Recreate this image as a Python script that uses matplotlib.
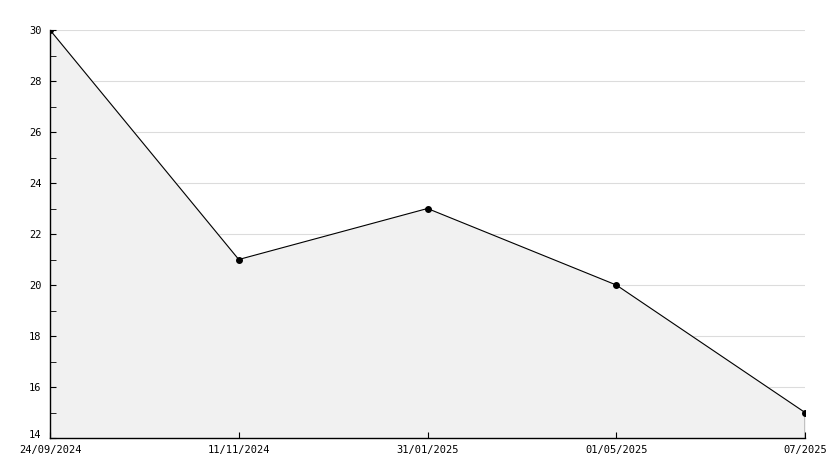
import matplotlib.pyplot as plt
import matplotlib.transforms as mtransforms

# Data
dates = ["24/09/2024", "11/11/2024", "31/01/2025", "01/05/2025", "07/2025"]
values = [30, 21, 23, 20, 15]

plt.rcParams['font.family'] = 'DejaVu Sans Mono'

fig = plt.figure(figsize=(8.34, 4.68), dpi=100)
ax = fig.add_axes([50 / 834, 30 / 468, 755 / 834, 408 / 468])

x = list(range(len(values)))

# light grey area under the line
ax.fill_between(x, values, 14, color='#f1f1f1', zorder=1)
ax.plot(x, values, color='black', linewidth=0.8, marker='o', markersize=4, zorder=3)
ax.vlines(x[-1], 14, values[-1], color='black', linewidth=1.0, zorder=3)

ax.set_xlim(0, len(values) - 1)
ax.set_ylim(14, 30)

ax.set_yticks(range(14, 31, 2))
ax.set_yticks(range(15, 31, 2), minor=True)
ax.set_xticks(x)
ax.set_xticklabels(dates)

# horizontal grid lines
for y in range(16, 31, 2):
    ax.axhline(y, color='#dcdcdc', linewidth=0.8, zorder=0)

ax.tick_params(axis='both', which='both', direction='in', labelsize=7.5, colors='black')
ax.tick_params(axis='y', which='major', length=4, pad=6)
ax.tick_params(axis='y', which='minor', length=4)
ax.tick_params(axis='x', which='major', length=4, pad=5)

# nudge the bottom y label up so it clears the first date
fig.canvas.draw()
lab = ax.get_yticklabels()[0]
lab.set_transform(lab.get_transform() + mtransforms.ScaledTranslation(0, 3 / 72, fig.dpi_scale_trans))

for s in ['top', 'right']:
    ax.spines[s].set_visible(False)
for s in ['left', 'bottom']:
    ax.spines[s].set_linewidth(1.0)

ax.set_facecolor('white')

fig.savefig("out.png", dpi=100)
